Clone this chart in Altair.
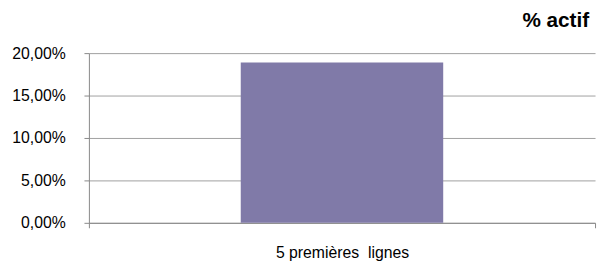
import altair as alt
import pandas as pd

categories = ["5 premières\u00a0 lignes"]
values = [0.189]
y_ticks = [0, 0.05, 0.10, 0.15, 0.20]

df = pd.DataFrame({"cat": categories, "val": values})

chart = alt.Chart(df).mark_bar(color="#807AA8", width=alt.RelativeBandSize(0.4)).encode(
    x=alt.X("cat:N", title=None,
            scale=alt.Scale(paddingInner=0, paddingOuter=0),
            axis=alt.Axis(labelAngle=0, tickBand="extent", tickSize=5,
                          labelPadding=17, domainColor="#888888", tickColor="#888888",
                          labelFont="Liberation Sans", labelFontSize=16, labelColor="#000000")),
    y=alt.Y("val:Q", title=None,
            scale=alt.Scale(domain=[0, 0.2], nice=False),
            axis=alt.Axis(values=y_ticks, tickSize=5, labelPadding=19,
                          labelExpr="replace(format(datum.value, '.2%'), '.', ',')",
                          gridColor="#A0A0A0", domainColor="#888888", tickColor="#888888",
                          labelFont="Liberation Sans", labelFontSize=16, labelColor="#000000")),
).properties(
    width=513, height=172,
    title=alt.TitleParams("% actif", anchor="end", dx=-6, offset=14, frame="group",
                          font="Liberation Sans", fontSize=21, fontWeight="bold", color="#000000"),
    autosize="none",
    padding={"left": 82, "top": 44, "right": 4, "bottom": 40},
).configure_view(stroke=None)

chart.save("out.html", embed_options={"renderer": "svg", "actions": False})
